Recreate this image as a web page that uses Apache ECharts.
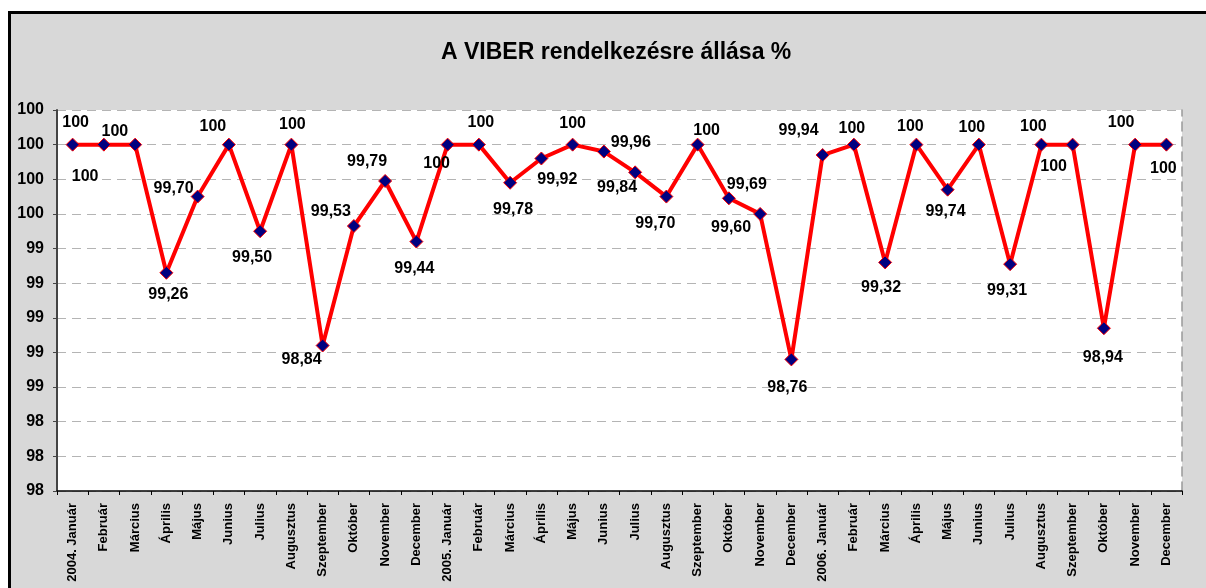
<!DOCTYPE html>
<html>
<head>
<meta charset="utf-8">
<script src="https://cdn.jsdelivr.net/npm/echarts@6/dist/echarts.min.js"></script>
<style>
  html, body { margin: 0; padding: 0; background: #fff; overflow: hidden; }
  #bg { position: absolute; left: 8px; top: 11px; width: 1300px; height: 700px;
        border: 3px solid #000; background: #d8d8d8; }
  #main { position: absolute; left: 0; top: 0; width: 1206px; height: 588px; }
</style>
</head>
<body>
<div id="bg"></div>
<div id="main"></div>
<script>
// hónapok 2004-2006
var honapok = [
  '2004. Január', 'Február', 'Március', 'Április', 'Május', 'Junius',
  'Julius', 'Augusztus', 'Szeptember', 'Október', 'November', 'December',
  '2005. Január', 'Február', 'Március', 'Április', 'Május', 'Junius',
  'Julius', 'Augusztus', 'Szeptember', 'Október', 'November', 'December',
  '2006. Január', 'Február', 'Március', 'Április', 'Május', 'Junius',
  'Julius', 'Augusztus', 'Szeptember', 'Október', 'November', 'December'
];
// rendelkezésre állás %
var ertekek = [
  100, 100, 100, 99.26, 99.70, 100, 99.50, 100, 98.84, 99.53, 99.79, 99.44,
  100, 100, 99.78, 99.92, 100, 99.96, 99.84, 99.70, 100, 99.69, 99.60, 98.76,
  99.94, 100, 99.32, 100, 99.74, 100, 99.31, 100, 100, 98.94, 100, 100
];
// címke eltolások a pontokhoz képest (px)
var cimkeEltolas = [
  [3, -22], [11, -13], [-50, 32], [2, 22], [-24, -8], [-16, -18],
  [-8, 26], [1, -20], [-21, 14], [-23, -14], [-18, -19], [-2, 27],
  [-11, 19], [2, -22], [3, 27], [16, 21], [0, -21], [27, -9],
  [-18, 15], [-11, 27], [9, -14], [18, -14], [-29, 14], [-4, 28],
  [-24, -24], [-2, -16], [-4, 25], [-6, -18], [-2, 22], [-7, -17],
  [-3, 26], [-8, -18], [-19, 22], [-1, 29], [-14, -22], [-3, 24]
];

var font = 'Arial, "Liberation Sans", sans-serif';

function formatErtek(v) {
  return v === 100 ? '100' : v.toFixed(2).replace('.', ',');
}

var myChart = echarts.init(document.getElementById('main'));

var pontok = ertekek.map(function (v, i) {
  return {
    value: v,
    label: { offset: cimkeEltolas[i] }
  };
});

var option = {
  backgroundColor: 'transparent',
  animation: false,
  title: {
    text: 'A VIBER rendelkezésre állása %',
    left: 436,
    top: 36,
    textStyle: { fontFamily: font, fontSize: 23, fontWeight: 'bold', color: '#000' }
  },
  grid: {
    left: 57, right: 24, top: 110, bottom: 97,
    show: true, backgroundColor: '#fff', borderWidth: 0
  },
  xAxis: {
    type: 'category',
    data: honapok,
    boundaryGap: true,
    axisLine: { lineStyle: { color: '#000', width: 1.5 } },
    axisTick: { show: true, length: 4, lineStyle: { color: '#000' } },
    axisLabel: {
      interval: 0,
      rotate: 90,
      margin: 12,
      fontFamily: font,
      fontSize: 13,
      fontWeight: 'bold',
      color: '#000'
    },
    splitLine: { show: false }
  },
  yAxis: [{
    type: 'value',
    min: 98,
    max: 100.2,
    interval: 0.2,
    axisLine: { show: true, lineStyle: { color: '#444', width: 2 } },
    axisTick: { show: true, length: 4, lineStyle: { color: '#444' } },
    axisLabel: {
      margin: 13,
      fontFamily: font,
      fontSize: 16,
      fontWeight: 'bold',
      color: '#000',
      formatter: function (v) { return Math.round(v); }
    },
    splitLine: { show: true, lineStyle: { color: '#b4b4b4', type: [9, 6], width: 1 } }
  }, {
    type: 'value',
    position: 'right',
    min: 98,
    max: 100.2,
    interval: 0.2,
    axisLine: { show: true, lineStyle: { color: '#999', type: [9, 6], width: 1.5 } },
    axisTick: { show: false },
    axisLabel: { show: false },
    splitLine: { show: false }
  }],
  series: [{
    type: 'line',
    data: pontok,
    yAxisIndex: 0,
    symbol: 'diamond',
    symbolSize: 13,
    lineStyle: { color: '#ff0000', width: 4 },
    itemStyle: { color: '#000080', borderColor: '#ff0000', borderWidth: 1 },
    label: {
      show: true,
      position: 'inside',
      fontFamily: font,
      fontSize: 16,
      fontWeight: 'bold',
      color: '#000',
      formatter: function (p) { return formatErtek(p.value); }
    },
    z: 5
  }]
};

myChart.setOption(option);
</script>
</body>
</html>
